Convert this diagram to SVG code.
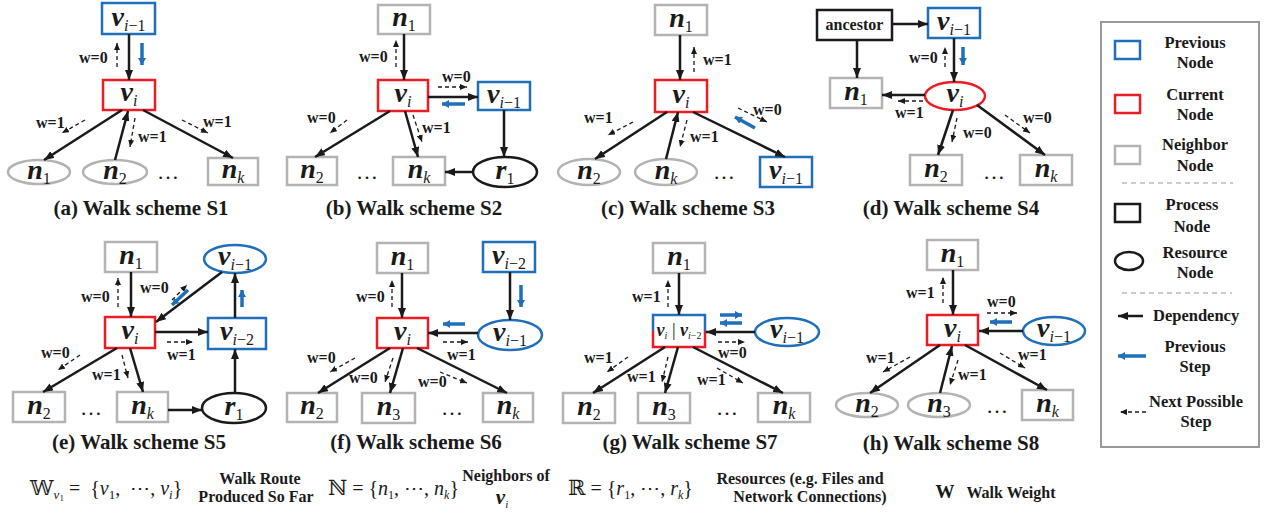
<svg xmlns="http://www.w3.org/2000/svg" width="1266" height="514" viewBox="0 0 1266 514">
<defs>
<marker id="a" viewBox="0 0 10 8" refX="10" refY="4" markerWidth="10" markerHeight="8" orient="auto" markerUnits="userSpaceOnUse"><path d="M0,0L10,4L0,8z" fill="#1a1a1a"/></marker>
<marker id="d" viewBox="0 0 7 6" refX="7" refY="3" markerWidth="7" markerHeight="6" orient="auto" markerUnits="userSpaceOnUse"><path d="M0,0L7,3L0,6z" fill="#1a1a1a"/></marker>
<marker id="b" viewBox="0 0 7 8" refX="7" refY="4" markerWidth="7" markerHeight="8" orient="auto" markerUnits="userSpaceOnUse"><path d="M0,0L7,4L0,8z" fill="#1f6fbb"/></marker>
</defs>
<style>
.bx{fill:#fff;stroke-width:2.5}
.g{stroke:#b3b3b3}
.u{stroke:#1f6fbb}
.r{stroke:#ec1c24}
.k{stroke:#1a1a1a}
.s{stroke:#1a1a1a;stroke-width:2.5;fill:none;marker-end:url(#a)}
.ds{stroke:#1a1a1a;stroke-width:1.3;stroke-dasharray:4 3;fill:none;marker-end:url(#d)}
.bl{stroke:#1f6fbb;stroke-width:3.5;fill:none;marker-end:url(#b)}
.nm{font-family:"Liberation Serif",serif;font-weight:bold;font-style:italic;font-size:28px;text-anchor:middle;fill:#1a1a1a}
.sb{font-weight:normal;font-size:16px}
.rn{font-style:normal}
.w{font-family:"Liberation Serif",serif;font-weight:bold;font-size:16px;fill:#1a1a1a}
.cap{font-family:"Liberation Serif",serif;font-weight:bold;font-size:21px;text-anchor:middle;fill:#1a1a1a}
.dot{font-family:"Liberation Serif",serif;font-size:22px;text-anchor:middle;fill:#1a1a1a}
.lg{font-family:"Liberation Serif",serif;font-weight:bold;font-size:16.5px;text-anchor:middle;fill:#1a1a1a}
.an{font-family:"Liberation Serif",serif;font-weight:bold;font-size:16px;text-anchor:middle;fill:#1a1a1a}
.fm{font-family:"Liberation Serif",serif;font-size:20px;fill:#1a1a1a}
.ds2{font-family:"DejaVu Serif",serif;font-size:21px}
.ft{font-family:"Liberation Serif",serif;font-weight:bold;font-size:16px;text-anchor:middle;fill:#1a1a1a}
</style>
<rect width="1266" height="514" fill="#fff"/>

<!-- Panel a -->
<g id="a-vprev"><rect class="bx u" x="102" y="3" width="53" height="31"/><text class="nm" x="128.5" y="26">v<tspan class="sb" dy="5">i<tspan class="rn">−1</tspan></tspan></text></g>
<g id="a-vi"><rect class="bx r" x="103" y="80" width="52" height="30"/><text class="nm" x="129" y="101">v<tspan class="sb" dy="5">i</tspan></text></g>
<g id="a-n1"><ellipse class="bx g" cx="39" cy="172" rx="31" ry="12"/><text class="nm" x="39" y="179">n<tspan class="sb rn" dy="5">1</tspan></text></g>
<g id="a-n2"><ellipse class="bx g" cx="115" cy="172" rx="32" ry="12"/><text class="nm" x="115" y="179">n<tspan class="sb rn" dy="5">2</tspan></text></g>
<g id="a-nk"><rect class="bx g" x="208" y="158" width="50" height="27"/><text class="nm" x="233" y="178">n<tspan class="sb" dy="5">k</tspan></text></g>
<text class="dot" x="168" y="179">…</text>
<text class="cap" x="141" y="215">(a) Walk scheme S1</text>

<!-- Panel b -->
<g id="b-n1"><rect class="bx g" x="378" y="5" width="52" height="29"/><text class="nm" x="404" y="26">n<tspan class="sb rn" dy="5">1</tspan></text></g>
<g id="b-vi"><rect class="bx r" x="378" y="80" width="50" height="31"/><text class="nm" x="403" y="102">v<tspan class="sb" dy="5">i</tspan></text></g>
<g id="b-vprev"><rect class="bx u" x="478" y="82" width="52" height="28"/><text class="nm" x="504" y="103">v<tspan class="sb" dy="5">i<tspan class="rn">−1</tspan></tspan></text></g>
<g id="b-n2"><rect class="bx g" x="287" y="157" width="50" height="28"/><text class="nm" x="312" y="178">n<tspan class="sb rn" dy="5">2</tspan></text></g>
<g id="b-nk"><rect class="bx g" x="393" y="157" width="52" height="28"/><text class="nm" x="419" y="178">n<tspan class="sb" dy="5">k</tspan></text></g>
<g id="b-r1"><ellipse class="bx k" cx="505" cy="172" rx="32" ry="15"/><text class="nm" x="505" y="179">r<tspan class="sb rn" dy="5">1</tspan></text></g>
<text class="dot" x="367" y="179">…</text>
<text class="cap" x="414" y="215">(b) Walk scheme S2</text>

<!-- Panel c -->
<g id="c-n1"><rect class="bx g" x="655" y="5" width="52" height="30"/><text class="nm" x="681" y="27">n<tspan class="sb rn" dy="5">1</tspan></text></g>
<g id="c-vi"><rect class="bx r" x="655" y="80" width="52" height="32"/><text class="nm" x="681" y="103">v<tspan class="sb" dy="5">i</tspan></text></g>
<g id="c-n2"><ellipse class="bx g" cx="589" cy="172" rx="31" ry="13"/><text class="nm" x="589" y="179">n<tspan class="sb rn" dy="5">2</tspan></text></g>
<g id="c-nk"><ellipse class="bx g" cx="666" cy="172" rx="31" ry="13"/><text class="nm" x="666" y="179">n<tspan class="sb" dy="5">k</tspan></text></g>
<g id="c-vprev"><rect class="bx u" x="760" y="157" width="52" height="30"/><text class="nm" x="786" y="179">v<tspan class="sb" dy="5">i<tspan class="rn">−1</tspan></tspan></text></g>
<text class="dot" x="724" y="179">…</text>
<text class="cap" x="688" y="215">(c) Walk scheme S3</text>

<!-- Panel d -->
<g id="d-anc"><rect class="bx k" x="817" y="10" width="75" height="30"/><text class="an" x="854.5" y="30">ancestor</text></g>
<g id="d-vprev"><rect class="bx u" x="928" y="8" width="52" height="30"/><text class="nm" x="954" y="30">v<tspan class="sb" dy="5">i<tspan class="rn">−1</tspan></tspan></text></g>
<g id="d-n1"><rect class="bx g" x="830" y="78" width="52" height="30"/><text class="nm" x="856" y="100">n<tspan class="sb rn" dy="5">1</tspan></text></g>
<g id="d-vi"><ellipse class="bx r" cx="955" cy="96" rx="30" ry="14"/><text class="nm" x="955" y="102">v<tspan class="sb" dy="5">i</tspan></text></g>
<g id="d-n2"><rect class="bx g" x="910" y="155" width="52" height="30"/><text class="nm" x="936" y="177">n<tspan class="sb rn" dy="5">2</tspan></text></g>
<g id="d-nk"><rect class="bx g" x="1020" y="155" width="52" height="30"/><text class="nm" x="1046" y="177">n<tspan class="sb" dy="5">k</tspan></text></g>
<text class="dot" x="994" y="179">…</text>
<text class="cap" x="951" y="215">(d) Walk scheme S4</text>

<!-- Panel e -->
<g id="e-n1"><rect class="bx g" x="105" y="242" width="52" height="30"/><text class="nm" x="131" y="264">n<tspan class="sb rn" dy="5">1</tspan></text></g>
<g id="e-vi"><rect class="bx r" x="105" y="317" width="50" height="31"/><text class="nm" x="130" y="339">v<tspan class="sb" dy="5">i</tspan></text></g>
<g id="e-vprev1"><ellipse class="bx u" cx="235" cy="259" rx="31" ry="14"/><text class="nm" x="235" y="265">v<tspan class="sb" dy="5">i<tspan class="rn">−1</tspan></tspan></text></g>
<g id="e-vprev2"><rect class="bx u" x="208" y="318" width="58" height="31"/><text class="nm" x="237" y="340">v<tspan class="sb" dy="5">i<tspan class="rn">−2</tspan></tspan></text></g>
<g id="e-n2"><rect class="bx g" x="13" y="392" width="52" height="30"/><text class="nm" x="39" y="414">n<tspan class="sb rn" dy="5">2</tspan></text></g>
<g id="e-nk"><rect class="bx g" x="117" y="392" width="51" height="30"/><text class="nm" x="142.5" y="414">n<tspan class="sb" dy="5">k</tspan></text></g>
<g id="e-r1"><ellipse class="bx k" cx="234" cy="408" rx="32" ry="15"/><text class="nm" x="234" y="415">r<tspan class="sb rn" dy="5">1</tspan></text></g>
<text class="dot" x="91" y="415">…</text>
<text class="cap" x="139" y="449">(e) Walk scheme S5</text>

<!-- Panel f -->
<g id="f-n1"><rect class="bx g" x="377" y="243" width="51" height="30"/><text class="nm" x="402.5" y="265">n<tspan class="sb rn" dy="5">1</tspan></text></g>
<g id="f-vprev2"><rect class="bx u" x="483" y="242" width="52" height="30"/><text class="nm" x="509" y="264">v<tspan class="sb" dy="5">i<tspan class="rn">−2</tspan></tspan></text></g>
<g id="f-vi"><rect class="bx r" x="377" y="318" width="51" height="30"/><text class="nm" x="402.5" y="340">v<tspan class="sb" dy="5">i</tspan></text></g>
<g id="f-vprev1"><ellipse class="bx u" cx="510" cy="335" rx="32" ry="15"/><text class="nm" x="510" y="341">v<tspan class="sb" dy="5">i<tspan class="rn">−1</tspan></tspan></text></g>
<g id="f-n2"><rect class="bx g" x="287" y="393" width="50" height="29"/><text class="nm" x="312" y="414">n<tspan class="sb rn" dy="5">2</tspan></text></g>
<g id="f-n3"><rect class="bx g" x="362" y="393" width="53" height="30"/><text class="nm" x="388.5" y="415">n<tspan class="sb rn" dy="5">3</tspan></text></g>
<g id="f-nk"><rect class="bx g" x="483" y="393" width="50" height="29"/><text class="nm" x="508" y="414">n<tspan class="sb" dy="5">k</tspan></text></g>
<text class="dot" x="452" y="415">…</text>
<text class="cap" x="416" y="449">(f) Walk scheme S6</text>

<!-- Panel g -->
<g id="g-n1"><rect class="bx g" x="653" y="243" width="52" height="30"/><text class="nm" x="679" y="265">n<tspan class="sb rn" dy="5">1</tspan></text></g>
<g id="g-vi"><rect x="653" y="315" width="52" height="32" fill="#fff"/><path d="M653,331V315H705V331" fill="none" stroke="#1f6fbb" stroke-width="2.5"/><path d="M653,331V347H705V331" fill="none" stroke="#ec1c24" stroke-width="2.5"/><text class="nm" style="font-size:18px" x="679" y="336">v<tspan class="sb" style="font-size:10px" dy="3">i</tspan><tspan class="rn" style="font-weight:normal;font-size:18px" dy="-3"> | </tspan>v<tspan class="sb" style="font-size:10px" dy="3">i<tspan class="rn">−2</tspan></tspan></text></g>
<g id="g-vprev1"><ellipse class="bx u" cx="787" cy="332" rx="32" ry="14"/><text class="nm" x="787" y="338">v<tspan class="sb" dy="5">i<tspan class="rn">−1</tspan></tspan></text></g>
<g id="g-n2"><rect class="bx g" x="563" y="393" width="52" height="30"/><text class="nm" x="589" y="415">n<tspan class="sb rn" dy="5">2</tspan></text></g>
<g id="g-n3"><rect class="bx g" x="638" y="393" width="52" height="30"/><text class="nm" x="664" y="415">n<tspan class="sb rn" dy="5">3</tspan></text></g>
<g id="g-nk"><rect class="bx g" x="758" y="393" width="52" height="29"/><text class="nm" x="784" y="414">n<tspan class="sb" dy="5">k</tspan></text></g>
<text class="dot" x="727" y="415">…</text>
<text class="cap" x="690" y="449">(g) Walk scheme S7</text>

<!-- Panel h -->
<g id="h-n1"><rect class="bx g" x="927" y="240" width="51" height="30"/><text class="nm" x="952.5" y="262">n<tspan class="sb rn" dy="5">1</tspan></text></g>
<g id="h-vi"><rect class="bx r" x="927" y="315" width="51" height="30"/><text class="nm" x="952.5" y="337">v<tspan class="sb" dy="5">i</tspan></text></g>
<g id="h-vprev"><ellipse class="bx u" cx="1054" cy="331" rx="31" ry="14"/><text class="nm" x="1054" y="337">v<tspan class="sb" dy="5">i<tspan class="rn">−1</tspan></tspan></text></g>
<g id="h-n2"><ellipse class="bx g" cx="867" cy="405" rx="31" ry="12"/><text class="nm" x="867" y="412">n<tspan class="sb rn" dy="5">2</tspan></text></g>
<g id="h-n3"><ellipse class="bx g" cx="939" cy="405" rx="31" ry="12"/><text class="nm" x="939" y="412">n<tspan class="sb rn" dy="5">3</tspan></text></g>
<g id="h-nk"><rect class="bx g" x="1022" y="390" width="51" height="30"/><text class="nm" x="1047.5" y="412">n<tspan class="sb" dy="5">k</tspan></text></g>
<text class="dot" x="997" y="413">…</text>
<text class="cap" x="951" y="450">(h) Walk scheme S8</text>

<!-- Connectors -->
<g id="connectors">
<line class="s" x1="129" y1="34" x2="129" y2="80"/>
<line class="ds" x1="117" y1="67" x2="117" y2="43"/>
<line class="bl" x1="142" y1="43" x2="142" y2="65"/>
<line class="s" x1="122" y1="110" x2="44" y2="160"/>
<line class="s" x1="115" y1="160" x2="128" y2="111"/>
<line class="s" x1="143" y1="110" x2="233" y2="158"/>
<line class="ds" x1="85" y1="120" x2="62" y2="133"/>
<line class="ds" x1="135" y1="118" x2="130" y2="147"/>
<line class="ds" x1="182" y1="120" x2="208" y2="133"/>
<line class="s" x1="404" y1="34" x2="404" y2="80"/>
<line class="ds" x1="396" y1="67" x2="396" y2="40"/>
<line class="s" x1="428" y1="97" x2="478" y2="97"/>
<line class="ds" x1="438" y1="87" x2="467" y2="87"/>
<line class="bl" x1="465" y1="104" x2="442" y2="104"/>
<line class="s" x1="504" y1="110" x2="504" y2="157"/>
<line class="s" x1="473" y1="172" x2="445" y2="172"/>
<line class="s" x1="390" y1="111" x2="315" y2="157"/>
<line class="ds" x1="347" y1="120" x2="330" y2="133"/>
<line class="s" x1="405" y1="111" x2="418" y2="157"/>
<line class="ds" x1="413" y1="115" x2="422" y2="142"/>
<line class="s" x1="680" y1="35" x2="680" y2="80"/>
<line class="ds" x1="694" y1="72" x2="694" y2="47"/>
<line class="s" x1="667" y1="112" x2="595" y2="159"/>
<line class="ds" x1="633" y1="122" x2="608" y2="135"/>
<line class="s" x1="666" y1="159" x2="678" y2="112"/>
<line class="ds" x1="687" y1="120" x2="680" y2="147"/>
<line class="s" x1="693" y1="112" x2="785" y2="157"/>
<line class="bl" x1="755" y1="128" x2="735" y2="117"/>
<line class="ds" x1="738" y1="108" x2="767" y2="122"/>
<line class="s" x1="892" y1="24" x2="928" y2="24"/>
<line class="s" x1="857" y1="40" x2="857" y2="78"/>
<line class="s" x1="954" y1="38" x2="954" y2="82"/>
<line class="ds" x1="945" y1="67" x2="945" y2="47"/>
<line class="bl" x1="963" y1="47" x2="963" y2="65"/>
<line class="s" x1="925" y1="95" x2="882" y2="95"/>
<line class="ds" x1="923" y1="101" x2="898" y2="101"/>
<line class="s" x1="953" y1="110" x2="938" y2="155"/>
<line class="ds" x1="957" y1="118" x2="952" y2="142"/>
<line class="s" x1="977" y1="105" x2="1045" y2="155"/>
<line class="ds" x1="1005" y1="115" x2="1030" y2="133"/>
<line class="s" x1="131" y1="272" x2="131" y2="317"/>
<line class="ds" x1="118" y1="307" x2="118" y2="278"/>
<line class="s" x1="222" y1="272" x2="156" y2="322"/>
<line class="ds" x1="172" y1="300" x2="187" y2="285"/>
<line class="bl" x1="188" y1="290" x2="172" y2="305"/>
<line class="s" x1="155" y1="332" x2="208" y2="332"/>
<line class="ds" x1="167" y1="342" x2="193" y2="342"/>
<line class="s" x1="235" y1="318" x2="235" y2="273"/>
<line class="bl" x1="242" y1="307" x2="242" y2="290"/>
<line class="s" x1="235" y1="393" x2="235" y2="349"/>
<line class="s" x1="168" y1="410" x2="202" y2="410"/>
<line class="s" x1="117" y1="348" x2="43" y2="392"/>
<line class="ds" x1="80" y1="355" x2="58" y2="370"/>
<line class="s" x1="130" y1="348" x2="143" y2="392"/>
<line class="ds" x1="122" y1="355" x2="128" y2="378"/>
<line class="s" x1="402" y1="273" x2="402" y2="318"/>
<line class="ds" x1="392" y1="307" x2="392" y2="280"/>
<line class="s" x1="510" y1="272" x2="510" y2="320"/>
<line class="bl" x1="521" y1="285" x2="521" y2="307"/>
<line class="s" x1="478" y1="333" x2="428" y2="333"/>
<line class="bl" x1="465" y1="324" x2="443" y2="324"/>
<line class="ds" x1="443" y1="342" x2="468" y2="342"/>
<line class="s" x1="390" y1="348" x2="318" y2="393"/>
<line class="ds" x1="355" y1="358" x2="330" y2="372"/>
<line class="s" x1="403" y1="348" x2="390" y2="393"/>
<line class="ds" x1="393" y1="358" x2="385" y2="382"/>
<line class="s" x1="417" y1="348" x2="507" y2="393"/>
<line class="ds" x1="440" y1="372" x2="467" y2="383"/>
<line class="s" x1="679" y1="273" x2="679" y2="315"/>
<line class="ds" x1="668" y1="307" x2="668" y2="280"/>
<line class="s" x1="755" y1="332" x2="706" y2="332"/>
<line class="bl" x1="720" y1="315" x2="742" y2="315"/>
<line class="bl" x1="742" y1="323" x2="720" y2="323"/>
<line class="ds" x1="718" y1="342" x2="745" y2="342"/>
<line class="s" x1="665" y1="347" x2="593" y2="393"/>
<line class="ds" x1="628" y1="357" x2="607" y2="372"/>
<line class="s" x1="678" y1="347" x2="665" y2="393"/>
<line class="ds" x1="668" y1="357" x2="662" y2="382"/>
<line class="s" x1="693" y1="347" x2="783" y2="393"/>
<line class="ds" x1="717" y1="368" x2="743" y2="383"/>
<line class="s" x1="953" y1="270" x2="953" y2="315"/>
<line class="ds" x1="943" y1="303" x2="943" y2="277"/>
<line class="s" x1="1023" y1="331" x2="979" y2="331"/>
<line class="bl" x1="1012" y1="322" x2="990" y2="322"/>
<line class="ds" x1="987" y1="313" x2="1017" y2="313"/>
<line class="s" x1="940" y1="345" x2="870" y2="393"/>
<line class="ds" x1="910" y1="357" x2="883" y2="372"/>
<line class="s" x1="940" y1="393" x2="952" y2="346"/>
<line class="ds" x1="958" y1="360" x2="950" y2="385"/>
<line class="s" x1="965" y1="345" x2="1047" y2="390"/>
<line class="ds" x1="1000" y1="353" x2="1025" y2="368"/>
</g>

<!-- weight labels -->
<g id="weights">
<text class="w" x="79" y="63">w=0</text>
<text class="w" x="36" y="128">w=1</text>
<text class="w" x="138" y="142">w=1</text>
<text class="w" x="203" y="127">w=1</text>
<text class="w" x="359" y="62">w=0</text>
<text class="w" x="442" y="82">w=0</text>
<text class="w" x="307" y="123">w=0</text>
<text class="w" x="422" y="133">w=1</text>
<text class="w" x="703" y="65">w=1</text>
<text class="w" x="584" y="123">w=1</text>
<text class="w" x="690" y="142">w=1</text>
<text class="w" x="753" y="115">w=0</text>
<text class="w" x="909" y="63">w=0</text>
<text class="w" x="895" y="118">w=1</text>
<text class="w" x="963" y="138">w=0</text>
<text class="w" x="1023" y="123">w=0</text>
<text class="w" x="81" y="302">w=0</text>
<text class="w" x="140" y="293">w=0</text>
<text class="w" x="167" y="360">w=1</text>
<text class="w" x="41" y="358">w=0</text>
<text class="w" x="92" y="380">w=1</text>
<text class="w" x="356" y="302">w=0</text>
<text class="w" x="447" y="360">w=1</text>
<text class="w" x="307" y="363">w=0</text>
<text class="w" x="349" y="383">w=0</text>
<text class="w" x="418" y="387">w=0</text>
<text class="w" x="632" y="302">w=1</text>
<text class="w" x="718" y="358">w=0</text>
<text class="w" x="584" y="363">w=1</text>
<text class="w" x="627" y="382">w=1</text>
<text class="w" x="697" y="385">w=1</text>
<text class="w" x="906" y="298">w=1</text>
<text class="w" x="987" y="307">w=0</text>
<text class="w" x="866" y="363">w=1</text>
<text class="w" x="958" y="380">w=1</text>
<text class="w" x="1018" y="360">w=1</text>
</g>

<!-- Legend -->
<g id="legend">
<rect x="1101" y="22" width="158" height="425" fill="#fff" stroke="#999" stroke-width="2"/>
<rect class="bx u" x="1115" y="41" width="25" height="18"/>
<text class="lg" x="1195" y="48">Previous</text><text class="lg" x="1195" y="68">Node</text>
<rect class="bx r" x="1115" y="95" width="25" height="18"/>
<text class="lg" x="1195" y="100">Current</text><text class="lg" x="1195" y="120">Node</text>
<rect class="bx g" x="1115" y="146" width="25" height="18"/>
<text class="lg" x="1195" y="150">Neighbor</text><text class="lg" x="1195" y="171">Node</text>
<line x1="1122" y1="183" x2="1233" y2="183" stroke="#999" stroke-width="1.2" stroke-dasharray="5 4"/>
<rect class="bx k" x="1115" y="204" width="25" height="18"/>
<text class="lg" x="1192" y="210">Process</text><text class="lg" x="1192" y="232">Node</text>
<ellipse class="bx k" cx="1129" cy="261" rx="14" ry="9"/>
<text class="lg" x="1195" y="258">Resource</text><text class="lg" x="1195" y="278">Node</text>
<line x1="1122" y1="293" x2="1232" y2="293" stroke="#999" stroke-width="1.2" stroke-dasharray="5 4"/>
<line class="s" x1="1143" y1="316" x2="1118" y2="316"/>
<text class="lg" x="1153" y="321" style="text-anchor:start">Dependency</text>
<line class="bl" x1="1146" y1="356" x2="1118" y2="356"/>
<text class="lg" x="1195" y="352">Previous</text><text class="lg" x="1195" y="372">Step</text>
<line class="ds" x1="1146" y1="412" x2="1120" y2="412"/>
<text class="lg" x="1196" y="407">Next Possible</text><text class="lg" x="1196" y="427">Step</text>
</g>

<!-- Bottom definitions -->
<g id="defs-line">
<text class="fm" x="30" y="495"><tspan class="ds2">𝕎</tspan><tspan font-style="italic" font-size="13" dy="4">v</tspan><tspan font-size="9" dy="2">1</tspan><tspan dy="-6">&#160;=&#160;&#160;{</tspan><tspan font-style="italic">v</tspan><tspan font-size="13" dy="4">1</tspan><tspan dy="-4">,&#160;&#160;⋯,&#160;</tspan><tspan font-style="italic">v</tspan><tspan font-size="13" font-style="italic" dy="4">i</tspan><tspan dy="-4">}</tspan></text>
<text class="ft" x="260" y="484">Walk Route</text>
<text class="ft" x="256" y="502">Produced So Far</text>
<text class="fm" x="328" y="495"><tspan class="ds2">ℕ</tspan> = {<tspan font-style="italic">n</tspan><tspan font-size="12" dy="4">1</tspan><tspan dy="-4">, ⋯, </tspan><tspan font-style="italic">n</tspan><tspan font-size="12" font-style="italic" dy="4">k</tspan><tspan dy="-4">}</tspan></text>
<text class="ft" x="506" y="481">Neighbors of</text>
<text class="nm" style="font-size:21px" x="502" y="504">v<tspan class="sb" style="font-size:11px" dy="4">i</tspan></text>
<text class="fm" x="568" y="495"><tspan class="ds2">ℝ</tspan> = {<tspan font-style="italic">r</tspan><tspan font-size="12" dy="4">1</tspan><tspan dy="-4">, ⋯, </tspan><tspan font-style="italic">r</tspan><tspan font-size="12" font-style="italic" dy="4">k</tspan><tspan dy="-4">}</tspan></text>
<text class="ft" x="800" y="484">Resources (e.g. Files and</text>
<text class="ft" x="810" y="502">Network Connections)</text>
<text class="ft" x="945" y="498" style="font-size:19px">W</text>
<text class="ft" x="1011" y="498">Walk Weight</text>
</g>
</svg>
